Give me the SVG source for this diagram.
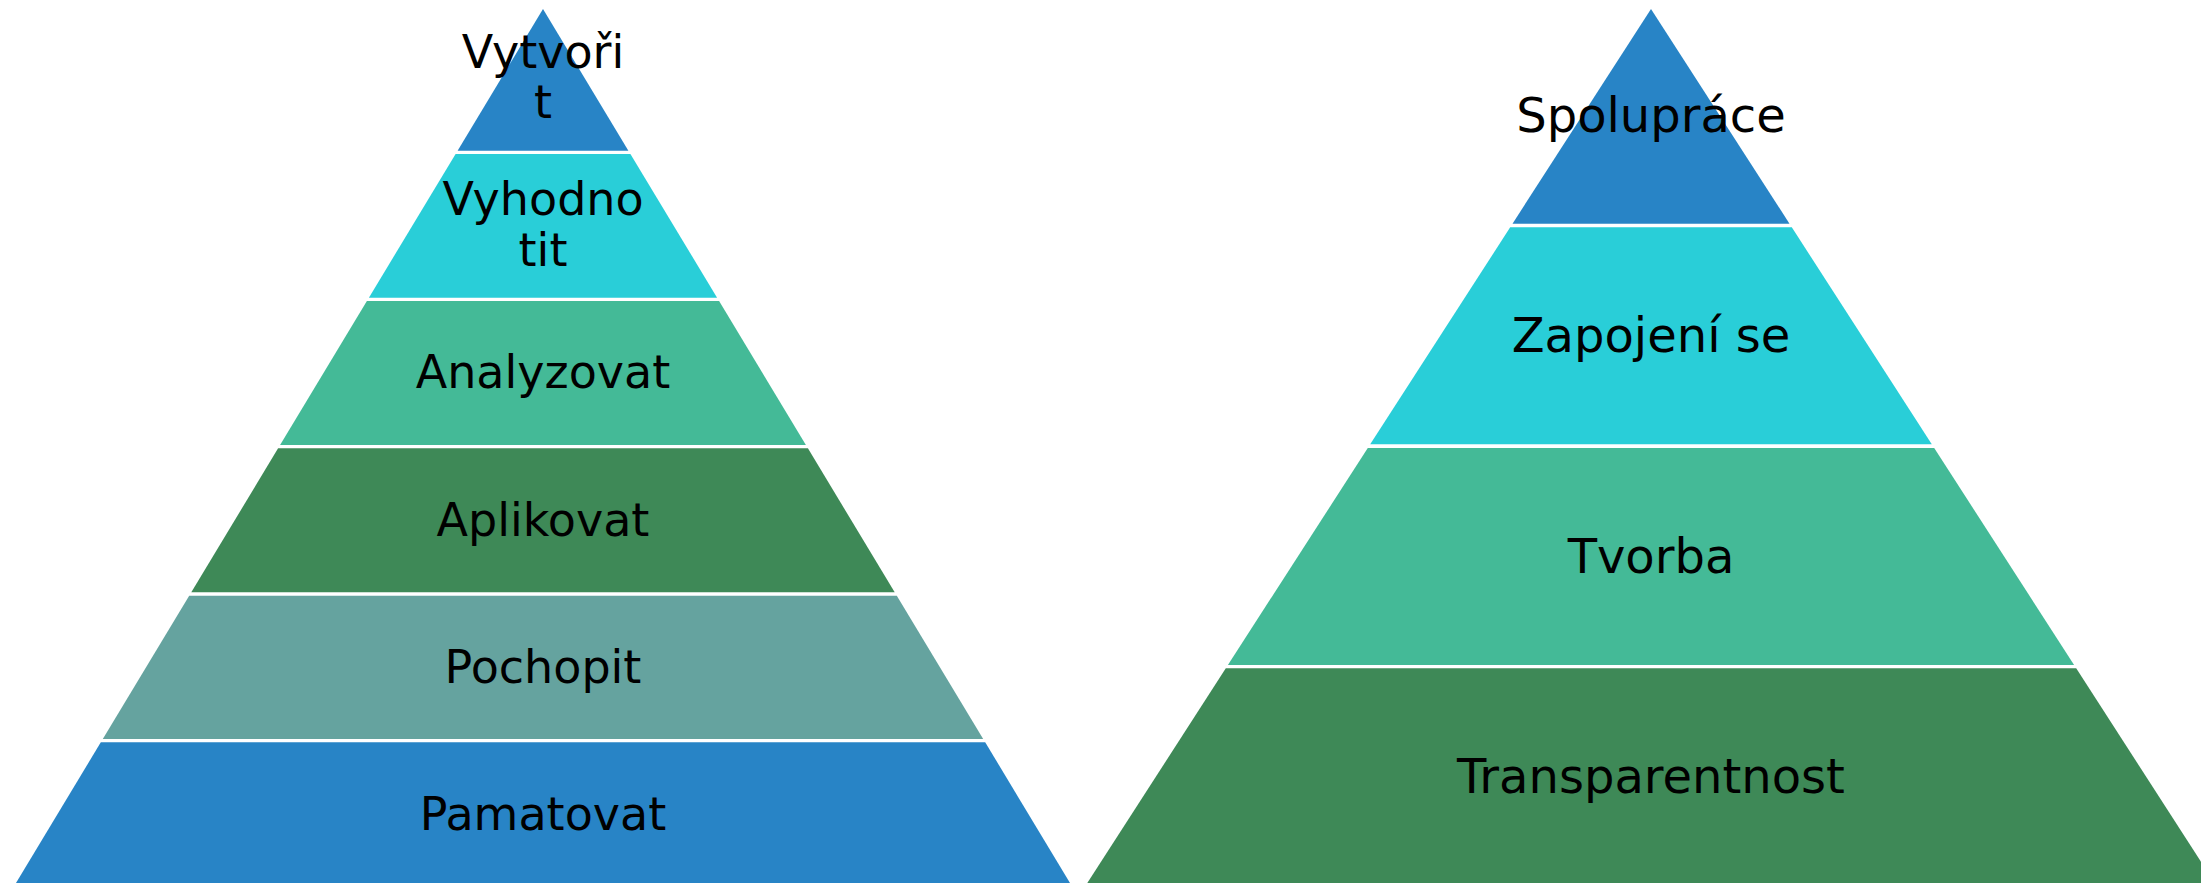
<svg xmlns="http://www.w3.org/2000/svg" width="2201" height="883" viewBox="0 0 2201 883">
  <style>
    .lbl { font-family: "DejaVu Sans", "Liberation Sans", sans-serif; fill: #000000; text-anchor: middle; }
    .l { font-size: 46px; }
    .r { font-size: 48px; }
    .blue { fill: #2884C6; }
    .cyan { fill: #29CED8; }
    .mint { fill: #44BA97; }
    .dgreen { fill: #3E8957; }
    .teal { fill: #65A39F; }
  </style>
  <rect x="0" y="0" width="2201" height="883" fill="#FFFFFF"/>

  <g id="left-pyramid">
    <g id="node-vytvorit">
      <polygon class="blue" points="543,9 628.4,150.7 457.6,150.7"/>
      <text class="lbl l" x="543" y="68"><tspan x="543" y="68">Vytvoři</tspan><tspan x="543" y="118">t</tspan></text>
    </g>
    <g id="node-vyhodnotit">
      <polygon class="cyan" points="455.6,154 630.4,154 717.1,297.7 368.9,297.7"/>
      <text class="lbl l" x="543" y="215"><tspan x="543" y="215">Vyhodno</tspan><tspan x="543" y="266">tit</tspan></text>
    </g>
    <g id="node-analyzovat">
      <polygon class="mint" points="366.9,301 719.1,301 805.9,445 280.1,445"/>
      <text class="lbl l" x="543" y="388">Analyzovat</text>
    </g>
    <g id="node-aplikovat">
      <polygon class="dgreen" points="278.1,448.3 807.9,448.3 894.7,592.3 191.3,592.3"/>
      <text class="lbl l" x="543" y="536">Aplikovat</text>
    </g>
    <g id="node-pochopit">
      <polygon class="teal" points="189.2,595.7 896.8,595.7 983.2,739 102.8,739"/>
      <text class="lbl l" x="543" y="683">Pochopit</text>
    </g>
    <g id="node-pamatovat">
      <polygon class="blue" points="100.8,742.3 985.2,742.3 1070,883 16,883"/>
      <text class="lbl l" x="543" y="830">Pamatovat</text>
    </g>
  </g>

  <g id="right-pyramid">
    <g id="node-spoluprace">
      <polygon class="blue" points="1651,9 1789.5,223.7 1512.5,223.7"/>
      <text class="lbl r" x="1651" y="132">Spolupráce</text>
    </g>
    <g id="node-zapojeni">
      <polygon class="cyan" points="1510.2,227.3 1791.8,227.3 1931.8,444.3 1370.2,444.3"/>
      <text class="lbl r" x="1651" y="352">Zapojení se</text>
    </g>
    <g id="node-tvorba">
      <polygon class="mint" points="1367.8,448 1934.2,448 2074.1,665 1227.9,665"/>
      <text class="lbl r" x="1651" y="573">Tvorba</text>
    </g>
    <g id="node-transparentnost">
      <polygon class="dgreen" points="1225.8,668.3 2076.2,668.3 2214.7,883 1087.3,883"/>
      <text class="lbl r" x="1651" y="793">Transparentnost</text>
    </g>
  </g>

  <g id="connectors"></g>
</svg>
